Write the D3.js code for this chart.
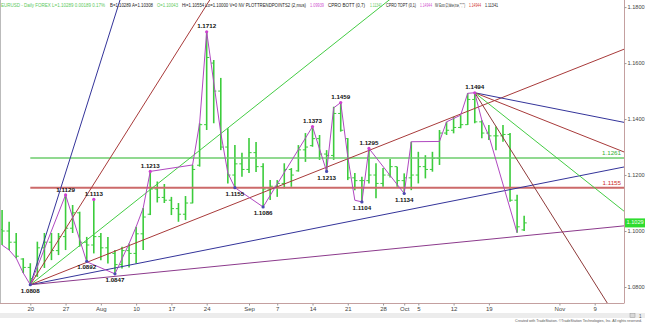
<!DOCTYPE html>
<html>
<head>
<meta charset="utf-8">
<script src="https://cdn.jsdelivr.net/npm/d3@7"></script>
<style>
  body { margin: 0; background: #fff; }
  svg { display: block; font-family: "Liberation Sans", Arial, sans-serif; }
</style>
</head>
<body>
<svg id="chart" width="645" height="323"></svg>
<script>
// trading-day index of the first bar (0 = Jul 20)
const firstBar = -4;
const open = [1.1005,1.1000,1.0960,1.0900,1.0870,1.0840,1.0940,1.0960,1.0930,1.0980,1.1010,1.1065,1.0960,1.0950,1.0980,1.0940,1.0920,1.0880,1.0930,1.0920,1.0990,1.1060,1.1150,1.1120,1.1110,1.1080,1.1060,1.1100,1.1235,1.1380,1.1600,1.1500,1.1300,1.1200,1.1240,1.1220,1.1280,1.1230,1.1150,1.1160,1.1170,1.1220,1.1215,1.1290,1.1305,1.1330,1.1275,1.1270,1.1420,1.1330,1.1190,1.1180,1.1180,1.1200,1.1170,1.1200,1.1230,1.1180,1.1190,1.1200,1.1230,1.1220,1.1260,1.1350,1.1360,1.1370,1.1380,1.1470,1.1390,1.1350,1.1340,1.1340,1.1345,1.1110,1.1004];
const high = [1.1075,1.1033,1.0993,1.0903,1.0885,1.0962,1.0993,1.0993,1.0993,1.1129,1.1093,1.1069,1.0979,1.1113,1.0993,1.0979,1.0932,1.0944,1.0955,1.1015,1.1082,1.1213,1.1177,1.1168,1.1122,1.1100,1.1125,1.1236,1.1385,1.1712,1.1611,1.1547,1.1367,1.1307,1.1280,1.1332,1.1318,1.1242,1.1182,1.1182,1.1242,1.1225,1.1307,1.1350,1.1373,1.1343,1.1289,1.1444,1.1459,1.1332,1.1207,1.1194,1.1295,1.1242,1.1225,1.1257,1.1230,1.1206,1.1319,1.1283,1.1271,1.1283,1.1361,1.1390,1.1408,1.1414,1.1492,1.1494,1.1396,1.1379,1.1373,1.1379,1.1350,1.1130,1.1055];
const low = [1.0950,1.0932,1.0903,1.0850,1.0808,1.0836,1.0868,1.0896,1.0914,1.0932,1.0993,1.0944,1.0890,1.0920,1.0896,1.0884,1.0847,1.0866,1.0870,1.0884,1.0932,1.1057,1.1102,1.1100,1.1057,1.1033,1.1039,1.1099,1.1230,1.1361,1.1385,1.1289,1.1170,1.1155,1.1194,1.1207,1.1211,1.1086,1.1111,1.1122,1.1152,1.1158,1.1212,1.1247,1.1301,1.1254,1.1213,1.1254,1.1355,1.1182,1.1146,1.1104,1.1170,1.1117,1.1158,1.1191,1.1158,1.1134,1.1146,1.1170,1.1188,1.1212,1.1236,1.1343,1.1349,1.1367,1.1379,1.1385,1.1331,1.1325,1.1289,1.1319,1.1105,1.0994,1.1000];
const close = [1.1000,1.0960,1.0910,1.0870,1.0830,1.0940,1.0960,1.0930,1.0980,1.1010,1.1065,1.0960,1.0950,1.0980,1.0940,1.0920,1.0880,1.0930,1.0920,1.0990,1.1050,1.1150,1.1120,1.1110,1.1080,1.1060,1.1100,1.1220,1.1380,1.1620,1.1500,1.1300,1.1200,1.1240,1.1220,1.1280,1.1230,1.1150,1.1160,1.1170,1.1220,1.1200,1.1290,1.1300,1.1330,1.1275,1.1270,1.1420,1.1360,1.1190,1.1180,1.1180,1.1200,1.1170,1.1200,1.1230,1.1180,1.1190,1.1200,1.1230,1.1220,1.1260,1.1350,1.1360,1.1370,1.1380,1.1470,1.1390,1.1350,1.1340,1.1340,1.1345,1.1110,1.1015,1.1029];

// swing line (PLOTTRENDPOINTS)
const pivotDay = [-4,-3,-2,-1,0,5,8,12,14,15,16,17,23,24,25,27,28,29,33,40,42,43,44,45,46,47,48,53,54,58,59,61,62,63,64,65,69];
const pivotPrice = [1.0950,1.0932,1.0903,1.0850,1.0808,1.1129,1.0890,1.0847,1.0955,1.1015,1.1082,1.1213,1.1236,1.1385,1.1712,1.1350,1.1207,1.1155,1.1086,1.1373,1.1213,1.1440,1.1459,1.1265,1.1110,1.1104,1.1295,1.1134,1.1319,1.1320,1.1390,1.1414,1.1492,1.1494,1.1396,1.1340,1.0994];

// swing labels
const labelDay = [0,5,9,8,12,17,25,29,33,40,42,44,47,48,53,63];
const labelPrice = [1.0808,1.1129,1.1113,1.0892,1.0847,1.1213,1.1712,1.1155,1.1086,1.1373,1.1213,1.1459,1.1104,1.1295,1.1134,1.1494];
const labelSide = ['b','a','a','b','b','a','a','b','b','a','b','a','b','a','b','a'];

// Gann fans: anchor + angle ratios
const fanLowAnchor = [0, 1.0808];
const fanLowRatios = [4, 2, 1, 0.5, 0.25, 0.125];
const fanLowColors = ['#34349a', '#a83a3a', '#44cc44', '#a83a3a', '#34349a', '#8c3a8c'];
const fanHighAnchor = [63, 1.1494];
const fanHighRatios = [0.25, 0.5, 1, 2];
const fanHighColors = ['#34349a', '#a83a3a', '#44cc44', '#8e3a3a'];
const gannUnit = 0.002; // price per bar for 1x1

const levelPrices = [1.1261, 1.1155];
const levelColors = ['#6ccc6c', '#cc6a6a'];
const levelTextColors = ['#33b033', '#cc2a2a'];

const tickDays = [0,5,10,15,20,25,31,35,40,45,50,53,55,60,65,75,80];
const tickLabels = ['20','27','Aug','10','17','24','Sep','7','14','21','28','Oct','5','12','19','Nov','9'];
const priceTicks = [1.08, 1.10, 1.12, 1.14, 1.16, 1.18];
const lastPrice = 1.1029;

const headerParts = [
  ['EURUSD - Daily FOREX  L=1.10289  0.00189  0.17%', 1, 104, '#5cc85c'],
  ['B=1.10289  A=1.10308', 110, 43, '#222'],
  ['O=1.10043', 157, 21, '#5cc85c'],
  ['Hi=1.10554  Lo=1.10000  V=0  NV  PLOTTRENDPOINTS2 (2,mus)', 182, 124, '#222'],
  ['1.09939', 310, 14, '#d050d0'],
  ['CPRO BOTT (0,7)', 328, 37, '#222'],
  ['1.11341', 370, 12, '#5cc85c'],
  ['CPRO TOPT (0,1)', 386, 30, '#222'],
  ['1.14944', 420, 12, '#d050d0'],
  ['NV Euro (2,false,true,"","")', 435, 30, '#222'],
  ['1.14944', 469, 12, '#d03030'],
  ['1.11341', 485, 13, '#222']
];

const plotRight = 624, plotBottom = 303;
const svg = d3.select('#chart');
const x = d3.scaleLinear().domain([0, 80]).range([30.3, 594.7]);
const y = d3.scaleLinear().domain([1.08, 1.18]).range([287, 7.1]);

svg.append('rect').attr('width', 645).attr('height', 323).attr('fill', '#fff');
svg.append('clipPath').attr('id', 'plotClip')
  .append('rect').attr('x', 0).attr('y', 0).attr('width', plotRight).attr('height', plotBottom);
const plot = svg.append('g').attr('clip-path', 'url(#plotClip)');

// OHLC bars
const bars = plot.append('g').selectAll('g').data(open.map((o, k) => k)).join('g')
  .attr('transform', k => `translate(${x(firstBar + k)},0)`)
  .attr('stroke', '#3ccc3c');
bars.append('line').attr('y1', k => y(high[k])).attr('y2', k => y(low[k])).attr('stroke-width', 1.6);
bars.append('line').attr('x1', -2.6).attr('x2', 0).attr('y1', k => y(open[k])).attr('y2', k => y(open[k])).attr('stroke-width', 1);
bars.append('line').attr('x1', 0).attr('x2', 2.6).attr('y1', k => y(close[k])).attr('y2', k => y(close[k])).attr('stroke-width', 1);

// horizontal levels
levelPrices.forEach((p, i) => {
  plot.append('line')
    .attr('x1', x(0)).attr('x2', plotRight)
    .attr('y1', y(p)).attr('y2', y(p))
    .attr('stroke', levelColors[i]).attr('stroke-width', i === 1 ? 2 : 1.5);
  svg.append('text')
    .attr('x', plotRight - 3).attr('y', y(p) - 3)
    .attr('text-anchor', 'end').attr('font-size', 6.2)
    .attr('fill', levelTextColors[i])
    .text(p.toFixed(4));
});

// Gann fans
function drawFan(anchor, ratios, colors, dir) {
  ratios.forEach((r, i) => {
    const endDay = 100;
    plot.append('line')
      .attr('x1', x(anchor[0])).attr('y1', y(anchor[1]))
      .attr('x2', x(endDay)).attr('y2', y(anchor[1] + dir * r * gannUnit * (endDay - anchor[0])))
      .attr('stroke', colors[i]).attr('stroke-width', 1);
  });
}
drawFan(fanLowAnchor, fanLowRatios, fanLowColors, 1);
drawFan(fanHighAnchor, fanHighRatios, fanHighColors, -1);

// swing line
plot.append('path')
  .datum(pivotDay.map((d, i) => [d, pivotPrice[i]]))
  .attr('fill', 'none').attr('stroke', '#b048c0').attr('stroke-width', 1)
  .attr('d', d3.line().x(d => x(d[0])).y(d => y(d[1])));

plot.append('g').selectAll('circle').data(labelDay).join('circle')
  .attr('cx', d => x(d)).attr('cy', (d, i) => y(labelPrice[i]))
  .attr('r', 1.6)
  .attr('fill', (d, i) => labelSide[i] === 'a' ? '#d040d0' : '#4a4ab0');

plot.append('g').selectAll('text').data(labelDay).join('text')
  .attr('x', d => x(d))
  .attr('y', (d, i) => y(labelPrice[i]) + (labelSide[i] === 'a' ? -5 : 6.5))
  .attr('text-anchor', 'middle').attr('dominant-baseline', 'middle')
  .attr('font-size', 6.2).attr('font-weight', 'bold').attr('fill', '#111')
  .text((d, i) => labelPrice[i].toFixed(4));

// frame
svg.append('line').attr('x1', 0.5).attr('x2', 0.5).attr('y1', 0).attr('y2', plotBottom).attr('stroke', '#bbb');
svg.append('line').attr('x1', plotRight + 0.5).attr('x2', plotRight + 0.5).attr('y1', 0).attr('y2', plotBottom).attr('stroke', '#c4a0a0');
svg.append('line').attr('x1', 0).attr('x2', plotRight + 0.5).attr('y1', plotBottom + 0.5).attr('y2', plotBottom + 0.5).attr('stroke', '#c4a0a0');

// price axis
const yAxis = svg.append('g')
  .attr('transform', `translate(${plotRight + 0.5},0)`)
  .call(d3.axisRight(y).tickValues(priceTicks).tickSize(2).tickPadding(1).tickFormat(d3.format('.4f')));
yAxis.select('.domain').remove();
yAxis.selectAll('line').attr('stroke', '#999');
yAxis.selectAll('text').attr('font-size', 5.6).attr('fill', '#444').attr('font-family', '"Liberation Sans", Arial, sans-serif');

// last price marker
svg.append('rect')
  .attr('x', plotRight + 1).attr('y', y(lastPrice) - 4.5)
  .attr('width', 645 - plotRight - 1).attr('height', 9)
  .attr('fill', '#2fdc2f');
svg.append('text')
  .attr('x', plotRight + 2.5).attr('y', y(lastPrice))
  .attr('dominant-baseline', 'middle').attr('font-size', 5.6).attr('fill', '#f4fff0')
  .text(lastPrice.toFixed(4));

// date axis
const xAxis = svg.append('g')
  .attr('transform', `translate(0,${plotBottom + 0.5})`)
  .call(d3.axisBottom(x).tickValues(tickDays).tickSize(2).tickPadding(1.5).tickFormat((d, i) => tickLabels[i]));
xAxis.select('.domain').remove();
xAxis.selectAll('line').attr('stroke', '#999');
xAxis.selectAll('text').attr('font-size', 6).attr('fill', '#444').attr('font-family', '"Liberation Sans", Arial, sans-serif');

// scroll strip and footer
svg.append('rect').attr('x', 0).attr('y', 313).attr('width', 645).attr('height', 5).attr('fill', '#ececec');
svg.append('rect').attr('x', 630).attr('y', 313.5).attr('width', 5).attr('height', 4).attr('fill', '#d8d8d8').attr('stroke', '#999').attr('stroke-width', 0.5);
svg.append('text').attr('x', 639).attr('y', 317.5).attr('font-size', 4.5).attr('fill', '#555').text('1');
svg.append('text').attr('x', 642).attr('y', 322).attr('text-anchor', 'end')
  .attr('font-size', 3.6).attr('fill', '#555')
  .text('Created with TradeStation. \u00A9TradeStation Technologies, Inc. All rights reserved.');

// header line
svg.append('g').selectAll('text').data(headerParts).join('text')
  .attr('x', d => d[1]).attr('y', 7)
  .attr('font-size', 4.8).attr('fill', d => d[3])
  .attr('textLength', d => d[2]).attr('lengthAdjust', 'spacingAndGlyphs')
  .text(d => d[0]);
</script>
</body>
</html>
